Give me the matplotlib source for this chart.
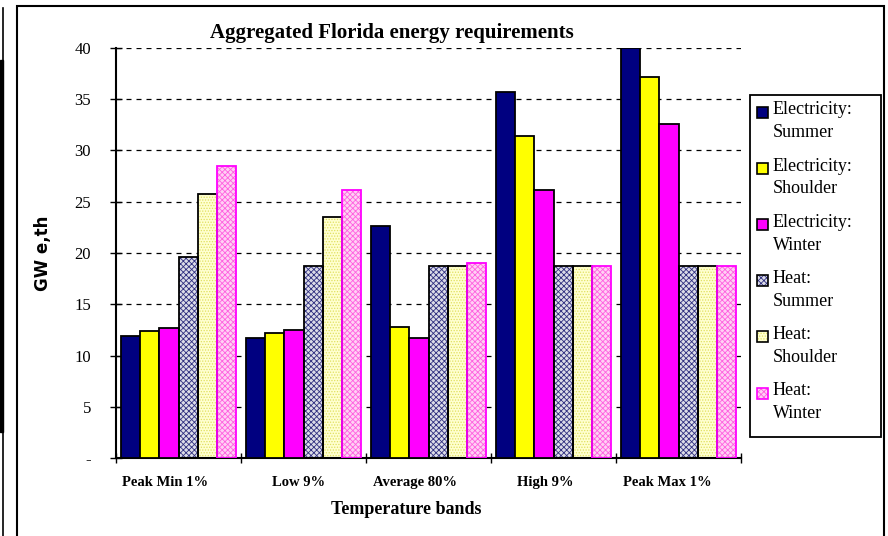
import numpy as np
import matplotlib
matplotlib.use("Agg")
import matplotlib.pyplot as plt
import matplotlib.transforms as mtransforms
from matplotlib.patches import Rectangle
from matplotlib.lines import Line2D

plt.rcParams['font.family'] = ['Liberation Serif', 'DejaVu Serif']
plt.rcParams['hatch.linewidth'] = 0.6

bands = ["Peak Min 1%", "Low 9%", "Average 80%", "High 9%", "Peak Max 1%"]
series = ["Electricity:\nSummer", "Electricity:\nShoulder", "Electricity:\nWinter",
          "Heat:\nSummer", "Heat:\nShoulder", "Heat:\nWinter"]
elec_summer = [11.9, 11.7, 22.6, 35.7, 40.0]
elec_shoulder = [12.4, 12.2, 12.8, 31.4, 37.2]
elec_winter = [12.7, 12.5, 11.7, 26.1, 32.6]
heat_summer = [19.6, 18.7, 18.7, 18.7, 18.7]
heat_shoulder = [25.8, 23.5, 18.7, 18.7, 18.7]
heat_winter = [28.5, 26.1, 19.0, 18.7, 18.7]
yticks = [0, 5, 10, 15, 20, 25, 30, 35, 40]
ytick_labels = ["-", "5", "10", "15", "20", "25", "30", "35", "40"]

values = [elec_summer, elec_shoulder, elec_winter, heat_summer, heat_shoulder, heat_winter]
# face, hatch colour, hatch, edge
styles = [
    ("#000080", None, None, "black"),
    ("#FFFF00", None, None, "black"),
    ("#FF00FF", None, None, "black"),
    ("#DCDCE8", "#303080", "xxxxxx", "black"),
    ("#FFFFD0", "#E0E060", "......", "black"),
    ("#FFD0F4", "#FF60E0", "xxxxxx", "#FF00FF"),
]

W, H = 888, 536
fig = plt.figure(figsize=(8.88, 5.36), dpi=100)
ax = fig.add_axes([116 / W, 1 - 458 / H, 625 / W, 410 / H])

x = np.arange(len(bands)) + 0.5
w = 0.153
for j, vals in enumerate(values):
    face, hcol, hatch, edge = styles[j]
    pos = x + (j - 2.5) * w
    if hatch:
        ax.bar(pos, vals, w, color=face, edgecolor=hcol, hatch=hatch, linewidth=0, zorder=2)
        ax.bar(pos, vals, w, fill=False, edgecolor=edge, linewidth=1.3, zorder=3)
    else:
        ax.bar(pos, vals, w, color=face, edgecolor=edge, linewidth=1.3, zorder=3)

ax.set_xlim(0, 5)
ax.set_ylim(0, 40)
ax.set_yticks(yticks)
ax.set_yticklabels(ytick_labels, fontsize=12)
ax.set_xticks(np.arange(6))
ax.set_xticklabels([])
ax.set_xticks(x, minor=True)
ax.set_xticklabels(bands, minor=True, fontsize=10.5, fontweight='bold')
ax.tick_params(axis='x', which='minor', length=0, pad=13)
ax.tick_params(axis='x', which='major', direction='inout', length=7, width=1)
ax.tick_params(axis='y', direction='inout', length=8, width=1, pad=14)

# excel puts the category labels a little left of the group centres
shifts = [-13.5, -5, -13.5, -8, -11]
for lbl, dx in zip(ax.get_xticklabels(minor=True), shifts):
    lbl.set_transform(lbl.get_transform() +
                      mtransforms.ScaledTranslation(dx / 100, 0, fig.dpi_scale_trans))

ax.grid(axis='y', linestyle=(0, (4, 4)), color='black', linewidth=0.9, zorder=1)
for s in ['top', 'right']:
    ax.spines[s].set_visible(False)
ax.spines['left'].set_linewidth(1.5)
ax.spines['bottom'].set_linewidth(1.5)

fig.text(406 / W, 1 - 509 / H, "Temperature bands", fontsize=13, fontweight='bold',
         ha='center', va='center')
fig.text(43 / W, 1 - 253 / H, "GW e,th", rotation=90, fontsize=12, fontweight='bold',
         family='DejaVu Sans', ha='center', va='center')
fig.text(392 / W, 1 - 33 / H, "Aggregated Florida energy requirements", fontsize=15,
         fontweight='bold', ha='center', va='center')

# legend drawn by hand: square next to first line of two-line label
fig.patches.append(Rectangle((750 / W, 1 - 437 / H), 131 / W, 342 / H,
                             transform=fig.transFigure, facecolor='white',
                             edgecolor='black', linewidth=1.3))
for j in range(6):
    face, hcol, hatch, edge = styles[j]
    cy = 112.5 + j * 56.1
    if hatch:
        fig.patches.append(Rectangle((757 / W, 1 - (cy + 5.5) / H), 11 / W, 11 / H,
                                     transform=fig.transFigure, facecolor=face,
                                     edgecolor=hcol, hatch=hatch, linewidth=0))
        fig.patches.append(Rectangle((757 / W, 1 - (cy + 5.5) / H), 11 / W, 11 / H,
                                     transform=fig.transFigure, fill=False,
                                     edgecolor=edge, linewidth=1.2))
    else:
        fig.patches.append(Rectangle((757 / W, 1 - (cy + 5.5) / H), 11 / W, 11 / H,
                                     transform=fig.transFigure, facecolor=face,
                                     edgecolor=edge, linewidth=1.2))
    fig.text(773 / W, 1 - (cy - 11) / H, series[j], fontsize=13, ha='left', va='top',
             linespacing=1.45)

# outer chart frame and neighbouring frame fragment
fig.patches.append(Rectangle((17 / W, -0.01), 867 / W, 1 - 6 / H + 0.01,
                             transform=fig.transFigure, fill=False,
                             edgecolor='black', linewidth=1.5))
fig.lines.append(Line2D([3 / W, 3 / W], [0, 1 - 8 / H], transform=fig.transFigure,
                        color='black', linewidth=1.2))
fig.patches.append(Rectangle((0, 1 - 432 / H), 3 / W, 372 / H,
                             transform=fig.transFigure, color='black'))

fig.savefig("out.png", dpi=100)
